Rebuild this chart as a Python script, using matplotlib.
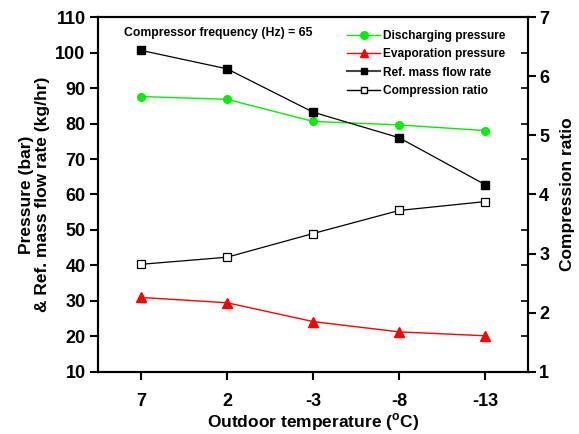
import matplotlib
matplotlib.use('Agg')
import matplotlib.pyplot as plt
from matplotlib.lines import Line2D
from matplotlib.ticker import FixedLocator

plt.rcParams['font.family'] = 'Liberation Sans'
plt.rcParams['font.weight'] = 'bold'
plt.rcParams['mathtext.fontset'] = 'custom'
plt.rcParams['mathtext.rm'] = 'Liberation Sans:bold'
plt.rcParams['mathtext.bf'] = 'Liberation Sans:bold'

# outdoor temperature categories
temps = ['7', '2', '-3', '-8', '-13']
discharging = [87.6, 86.8, 80.6, 79.6, 78.0]
evaporation = [31.0, 29.5, 24.2, 21.3, 20.2]
mass_flow = [100.6, 95.4, 83.2, 76.0, 62.8]
comp_ratio = [2.82, 2.94, 3.34, 3.73, 3.88]

x = list(range(len(temps)))

fig = plt.figure(figsize=(5.79, 4.34), dpi=100)
ax = fig.add_axes([0.1693, 0.1429, 0.7427, 0.8179])
ax2 = ax.twinx()

ax.plot(x, discharging, color='#00ee00', lw=1, marker='o', ms=5.5, zorder=3)
ax.plot(x, evaporation, color='red', lw=1, marker='^', ms=6.5, zorder=3)
ax.plot(x, mass_flow, color='black', lw=0.9, marker='s', ms=5.5, zorder=3)
ax2.plot(x, comp_ratio, color='black', lw=0.9, marker='s', ms=5.5, mfc='white', mec='black', mew=0.9)

ax.set_xlim(-0.5, 4.5)
ax.set_ylim(10, 110)
ax2.set_ylim(1, 7)
ax.set_xticks(x)
ax.set_xticklabels(temps)
ax.set_yticks(range(10, 111, 10))
ax2.set_yticks(range(1, 8))

# left ticks mirrored inward on right spine
left_ticks = range(20, 101, 10)
ax2.yaxis.set_minor_locator(FixedLocator([1 + (v - 10) * 0.06 for v in left_ticks]))

for a in (ax, ax2):
    for s in a.spines.values():
        s.set_linewidth(1.5)
ax.tick_params(axis='both', which='major', direction='out', length=6, width=1.5, labelsize=13)
ax.tick_params(axis='x', pad=9)
ax.tick_params(axis='y', pad=3)
ax2.tick_params(axis='y', which='major', direction='out', length=6, width=1.5, labelsize=13, pad=2)
ax2.tick_params(axis='y', which='minor', direction='in', length=5, width=1.2)

ax.set_ylabel('Pressure (bar)\n& Ref. mass flow rate (kg/hr)', fontsize=12.5, fontweight='bold', linespacing=1.05, labelpad=4)
ax2.set_ylabel('Compression ratio', fontsize=12.5, fontweight='bold', labelpad=8)
ax.set_xlabel(r'Outdoor temperature ($^{\mathbf{o}}$C)', fontsize=12.5, fontweight='bold', labelpad=1)

ax.text(0.06, 0.955, 'Compressor frequency (Hz) = 65', transform=ax.transAxes,
        fontsize=8.8, fontweight='bold', va='center', ha='left')

handles = [
    Line2D([], [], color='#00ee00', lw=1, marker='o', ms=5.5),
    Line2D([], [], color='red', lw=1, marker='^', ms=6),
    Line2D([], [], color='#444444', lw=1.5, marker='s', ms=5, mfc='black', mec='black'),
    Line2D([], [], color='black', lw=1, marker='s', ms=5, mfc='white', mec='black'),
]
labels = ['Discharging pressure', 'Evaporation pressure', 'Ref. mass flow rate', 'Compression ratio']
ax.legend(handles, labels, loc='upper left', bbox_to_anchor=(0.565, 0.98), frameon=False,
          handlelength=2.8, handletextpad=0.2, labelspacing=0.52, borderpad=0,
          prop={'weight': 'bold', 'size': 8.6})

fig.savefig('out.png', dpi=100)
